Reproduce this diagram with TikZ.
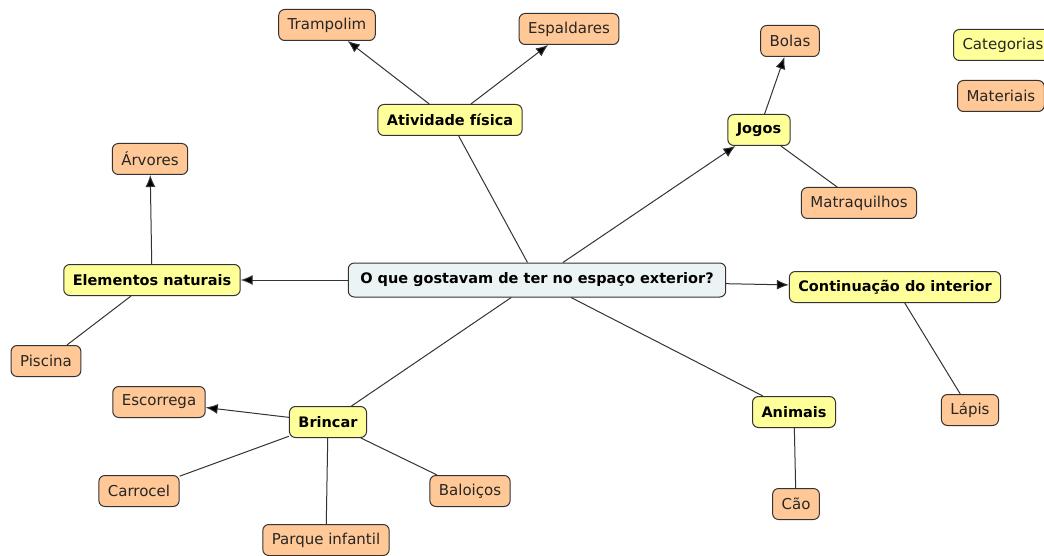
\documentclass[tikz,border=0pt]{standalone}
\usepackage{fontspec}
\usetikzlibrary{arrows.meta}
\setmainfont{DejaVu Sans}
\definecolor{catfill}{RGB}{255,255,153}
\definecolor{matfill}{RGB}{255,200,150}
\definecolor{topfill}{RGB}{236,243,245}
\definecolor{edge}{RGB}{51,51,51}
\begin{document}
\begin{tikzpicture}[x=1pt,y=-1pt,
    box/.style={draw=edge,line width=1pt,rounded corners=6pt,minimum height=31pt,inner xsep=9pt,
      font=\fontsize{15}{17}\selectfont,text=black!85},
    cat/.style={box,fill=catfill,font=\fontsize{14.5}{17}\selectfont\bfseries,text=black},
    mat/.style={box,fill=matfill},
    link/.style={draw=edge,line width=1pt},
    arr/.style={link,-{Latex[length=12pt,width=10pt,fill=black]}}]
    \useasboundingbox (0,0) rectangle (1044,556);
    %% NOTE: main question
    \node[cat,fill=topfill,minimum height=34pt,inner xsep=12pt] (q) at (537,280) {O que gostavam de ter no espaço exterior?};
    %% categories
    \node[cat] (ativ) at (450,120) {Atividade física};
    \node[cat] (jogos) at (759,130) {Jogos};
    \node[cat] (elem) at (152,280) {Elementos naturais};
    \node[cat] (cont) at (895,287) {Continuação do interior};
    \node[cat] (anim) at (794,412) {Animais};
    \node[cat] (brin) at (328,422) {Brincar};
    %% materials
    \node[mat] (tramp) at (327,25) {Trampolim};
    \node[mat] (espal) at (569,29) {Espaldares};
    \node[mat] (bolas) at (790,41) {Bolas};
    \node[mat] (matra) at (859,203) {Matraquilhos};
    \node[mat] (arvo) at (150,159) {Árvores};
    \node[mat] (pisc) at (46,361) {Piscina};
    \node[mat] (lapis) at (970,410) {Lápis};
    \node[mat] (cao) at (796,504) {Cão};
    \node[mat] (esco) at (159,402) {Escorrega};
    \node[mat] (carro) at (139,491) {Carrocel};
    \node[mat] (balo) at (470,491) {Baloiços};
    \node[mat] (parq) at (326,540) {Parque infantil};
    %% legend
    \node[box,fill=catfill,anchor=west] (legcat) at (953,45) {Categorias};
    \node[mat,anchor=west] (legmat) at (957,96) {Materiais};
    %% links
    \draw[link] (q) -- (ativ);
    \draw[arr] (ativ) -- (tramp);
    \draw[arr] (ativ) -- (espal);
    \draw[arr] (q) -- (jogos);
    \draw[arr] (jogos) -- (bolas);
    \draw[link] (jogos) -- (matra);
    \draw[arr] (q) -- (elem);
    \draw[arr] (elem) -- (arvo);
    \draw[link] (elem) -- (pisc);
    \draw[arr] (q) -- (cont);
    \draw[link] (cont) -- (lapis);
    \draw[link] (q) -- (anim);
    \draw[link] (anim) -- (cao);
    \draw[link] (q) -- (brin);
    \draw[arr] (brin) -- (esco);
    \draw[link] (brin) -- (carro);
    \draw[link] (brin) -- (balo);
    \draw[link] (brin) -- (parq);
\end{tikzpicture}
\end{document}
